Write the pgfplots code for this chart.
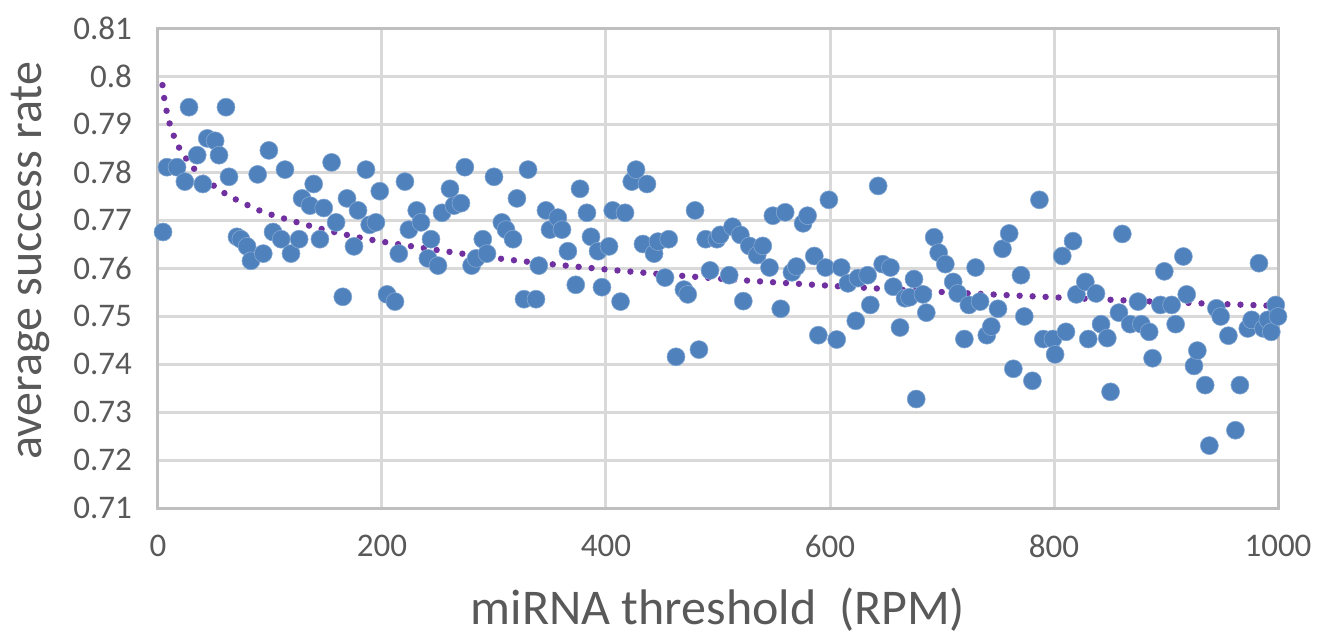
\documentclass[border=0pt]{standalone}
\usepackage{pgfplots}
\pgfplotsset{compat=1.18}
\usepackage{fontspec}
\setmainfont{Carlito}
\definecolor{ptblue}{HTML}{4F81BD}
\definecolor{trendc}{HTML}{7030A0}
\definecolor{gridc}{HTML}{D9D9D9}
\definecolor{axc}{HTML}{BFBFBF}
\definecolor{txt}{HTML}{595959}
\begin{document}
\begin{tikzpicture}
\path[use as bounding box] (-79pt,-65pt) rectangle (580.5pt,254pt);
\begin{axis}[
  scale only axis, width=560pt, height=240pt,
  xmin=0, xmax=1000, ymin=0.71, ymax=0.81,
  xtick={0,200,400,600,800,1000},
  ytick={0.71,0.72,0.73,0.74,0.75,0.76,0.77,0.78,0.79,0.8,0.81},
  yticklabels={0.71,0.72,0.73,0.74,0.75,0.76,0.77,0.78,0.79,0.8,0.81},
  /pgf/number format/assume math mode=true,
  /pgf/number format/1000 sep={},
  tick style={draw=none},
  grid=major,
  major grid style={draw=gridc, line width=1.5pt},
  axis line style={draw=axc, line width=1.5pt},
  ticklabel style={font=\fontsize{16.5pt}{19pt}\selectfont, text=txt},
  xticklabel style={yshift=-10pt},
  yticklabel style={xshift=-9.5pt},
  xlabel={miRNA threshold~~(RPM)},
  ylabel={average success rate},
  label style={text=txt},
  xlabel style={font=\fontsize{25pt}{29pt}\selectfont, at={(axis description cs:0.5,-0.2125)}, anchor=center},
  ylabel style={font=\fontsize{24pt}{28pt}\selectfont, at={(axis description cs:-0.114,0.515)}, anchor=center},
  clip=false,
]
\addplot[only marks, mark=*, mark size=4.5pt, mark options={fill=ptblue, draw=ptblue!70!white, line width=0.3pt}] coordinates {
(4.5,0.7675) (8,0.781) (17,0.781) (24,0.778) (27.7,0.7935) (35,0.7835) (40,0.7775) (44,0.787)
(51,0.7865) (54.5,0.7835) (60.7,0.7935) (63.4,0.779) (70.5,0.7665) (74,0.766) (79.5,0.7645) (83,0.7615)
(89,0.7795) (94,0.763) (99,0.7845) (102.7,0.7675) (110,0.766) (113.4,0.7805) (118.75,0.763) (126,0.766)
(128.6,0.7745) (135.7,0.773) (139,0.7775) (144.6,0.766) (148,0.7725) (155,0.782) (159,0.7695) (165,0.754)
(168.75,0.7745) (175,0.7645) (178.6,0.772) (185.7,0.7805) (189,0.769) (194.6,0.7695) (198,0.776) (204.5,0.7545)
(211.6,0.753) (215,0.763) (220.5,0.778) (224,0.768) (231,0.772) (234.8,0.7695) (241,0.762) (243.75,0.766)
(250,0.7605) (253.6,0.7715) (260.7,0.7765) (264.3,0.773) (270.5,0.7735) (274,0.781) (280,0.7605) (284,0.762)
(290,0.766) (293.75,0.763) (300,0.779) (307,0.7695) (310.7,0.768) (317,0.766) (320.5,0.7745) (326.8,0.7535)
(330.4,0.7805) (337.5,0.7535) (340,0.7605) (346.4,0.772) (350,0.768) (357,0.7705) (360.7,0.768) (366,0.7635)
(373,0.7565) (376.8,0.7765) (383,0.7715) (386.6,0.7665) (392.9,0.7635) (396.4,0.756) (402.7,0.7645) (406,0.772)
(413,0.753) (417,0.7715) (423,0.778) (426.8,0.7805) (433,0.765) (436.6,0.7775) (442.9,0.763) (446.4,0.7655)
(452.7,0.758) (456,0.766) (462.5,0.7415) (469.6,0.7555) (473,0.7545) (479.5,0.772) (483,0.743) (489,0.766)
(492.9,0.7595) (499,0.766) (502,0.7669) (510,0.7585) (513,0.7686) (520,0.7669) (522.6,0.7531) (528,0.7646)
(535,0.7627) (540,0.7646) (546,0.7601) (549,0.7709) (556,0.7515) (560,0.7716) (566,0.7591) (570,0.7603)
(576,0.7693) (580,0.7709) (586,0.7625) (589.6,0.7460) (596,0.7601) (599,0.7742) (606,0.7451) (610,0.7601)
(616,0.7568) (623,0.7490) (625,0.7579) (633.6,0.7585) (636,0.7523) (643,0.7771) (647,0.7608) (654,0.7601)
(656.5,0.7561) (662.5,0.7476) (667,0.7537) (671,0.7539) (675,0.7577) (677,0.7327) (683,0.7545) (686,0.7507)
(693,0.7664) (697,0.7632) (703,0.7608) (710,0.7571) (714,0.7547) (720,0.7452) (724,0.7523) (730,0.7601)
(734,0.7530) (740,0.7460) (744,0.7478) (750,0.7515) (754,0.7640) (760,0.7672) (763.7,0.7390) (770.5,0.7585)
(773.5,0.7499) (780.7,0.7365) (787,0.7742) (790.5,0.7452) (799,0.7452) (801,0.7420) (807.4,0.7625) (810.7,0.7467)
(817,0.7656) (820,0.7545) (828,0.7571) (830.6,0.7452) (837.5,0.7547) (842,0.7483) (847.6,0.7454) (850.5,0.7342)
(858,0.7507) (861,0.7671) (868,0.7483) (875,0.7530) (878,0.7483) (885,0.7467) (888,0.7412) (895,0.7523)
(898.5,0.7593) (905,0.7523) (908.6,0.7483) (915.5,0.7624) (918.5,0.7545) (925,0.7396) (928,0.7428) (935,0.7356)
(938.7,0.7230) (945,0.7516) (948.8,0.7499) (955.7,0.7459) (962,0.7262) (966,0.7356) (973,0.7474) (976.5,0.7492)
(983,0.7610) (987,0.7474) (991,0.7492) (994,0.7467) (998,0.7523) (1000,0.7499)
};
\addplot[trendc, line width=3.2pt, line cap=round, dash pattern=on 0pt off 6.5pt, smooth] coordinates {
(4,0.7981) (6,0.7947) (10,0.7904) (15,0.7870) (20,0.7846) (30,0.7813) (40,0.7789) (60,0.7755)
(80,0.7731) (100,0.7712) (150,0.7679) (200,0.7655) (300,0.7621) (400,0.7597) (500,0.7578)
(600,0.7563) (700,0.7550) (800,0.7539) (900,0.7529) (1000,0.7521)
};
\end{axis}
\end{tikzpicture}
\end{document}
